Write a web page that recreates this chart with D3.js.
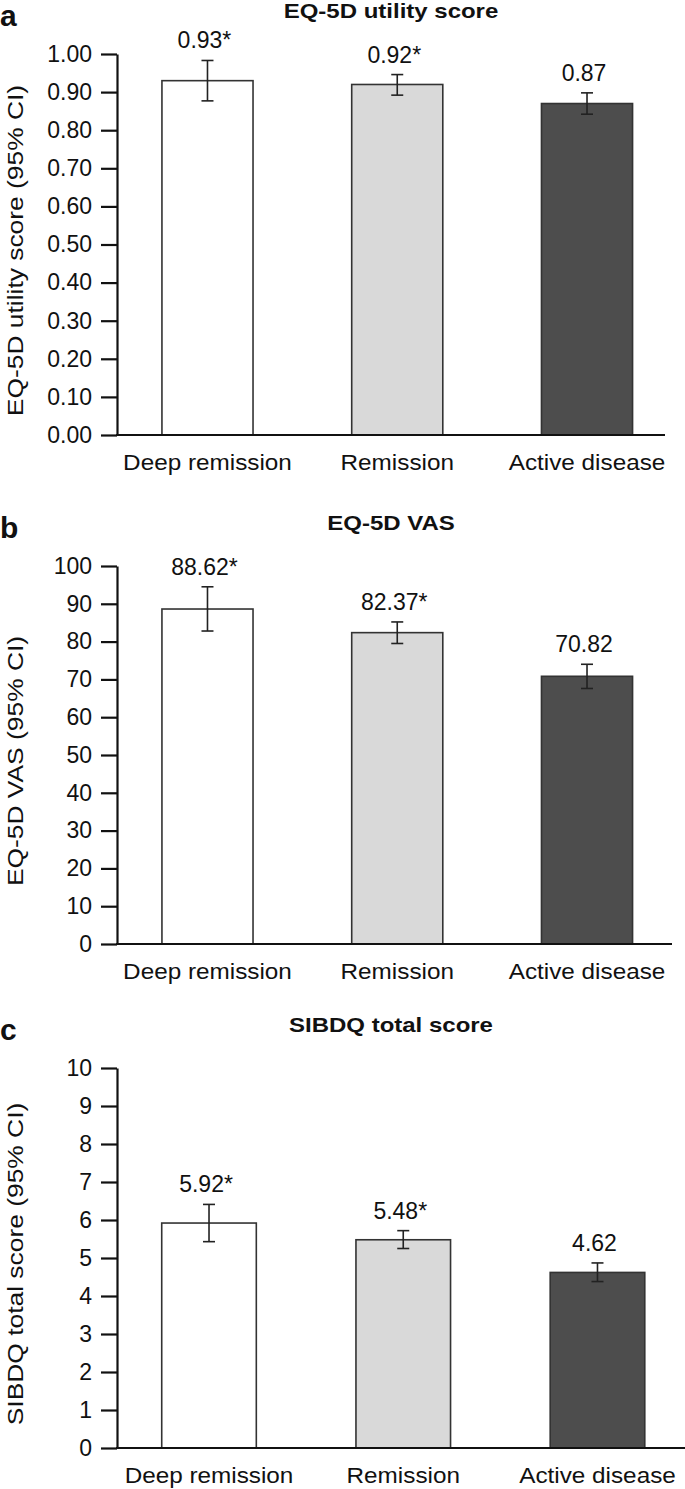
<!DOCTYPE html>
<html>
<head>
<meta charset="utf-8">
<script src="https://cdn.jsdelivr.net/npm/d3@7"></script>
<style>
  body { margin: 0; background: #fff; }
  text { font-family: "Liberation Sans", Arial, Helvetica, sans-serif; fill: #111; }
</style>
</head>
<body>
<svg id="chart"></svg>
<script>
// categories shared by the three panels
const categories = ["Deep remission", "Remission", "Active disease"];

// a: EQ-5D utility score
const utilityMean = [0.93, 0.92, 0.87];
const utilityLow = [0.877, 0.892, 0.842];
const utilityHigh = [0.983, 0.946, 0.898];
const utilityLabels = ["0.93*", "0.92*", "0.87"];
const utilityTicks = [0, 0.1, 0.2, 0.3, 0.4, 0.5, 0.6, 0.7, 0.8, 0.9, 1.0];

// b: EQ-5D VAS
const vasMean = [88.62, 82.37, 70.82];
const vasLow = [82.8, 79.5, 67.6];
const vasHigh = [94.5, 85.2, 74.0];
const vasLabels = ["88.62*", "82.37*", "70.82"];
const vasTicks = [0, 10, 20, 30, 40, 50, 60, 70, 80, 90, 100];

// c: SIBDQ total score
const sibdqMean = [5.92, 5.48, 4.62];
const sibdqLow = [5.43, 5.25, 4.38];
const sibdqHigh = [6.41, 5.72, 4.87];
const sibdqLabels = ["5.92*", "5.48*", "4.62"];
const sibdqTicks = [0, 1, 2, 3, 4, 5, 6, 7, 8, 9, 10];

const barFills = ["#ffffff", "#d9d9d9", "#4d4d4d"];

let svg = d3.select("#chart").attr("width", 685).attr("height", 1489);
svg.append("rect").attr("width", 685).attr("height", 1489).attr("fill", "#fff");

function drawPanel(cfg) {
    let axisX = 117;   // x of the y axis line

    let yScale = d3.scaleLinear()
        .domain([0, cfg.yMax])
        .range([cfg.bottom, cfg.top]);

    // band scale with half outer padding so that the first and last bands centre on the bars
    let xScale = d3.scaleBand()
        .domain(categories)
        .range(cfg.xRange)
        .paddingInner(cfg.pad)
        .paddingOuter(cfg.pad / 2);

    let g = svg.append("g");

    // bars
    g.selectAll(".bar")
        .data(categories)
        .enter().append("rect")
        .attr("x", d => xScale(d))
        .attr("width", xScale.bandwidth())
        .attr("y", (d, i) => yScale(cfg.mean[i]))
        .attr("height", (d, i) => cfg.bottom - yScale(cfg.mean[i]))
        .attr("fill", (d, i) => barFills[i])
        .attr("stroke", "#333")
        .attr("stroke-width", 1.6);

    // error bars
    let err = g.selectAll(".err")
        .data(categories)
        .enter().append("g")
        .attr("stroke", "#222")
        .attr("stroke-width", 1.6);
    let cx = d => xScale(d) + xScale.bandwidth() / 2;
    err.append("line")
        .attr("x1", cx).attr("x2", cx)
        .attr("y1", (d, i) => yScale(cfg.low[i]))
        .attr("y2", (d, i) => yScale(cfg.high[i]));
    err.append("line")
        .attr("x1", d => cx(d) - 6).attr("x2", d => cx(d) + 6)
        .attr("y1", (d, i) => yScale(cfg.high[i]))
        .attr("y2", (d, i) => yScale(cfg.high[i]));
    err.append("line")
        .attr("x1", d => cx(d) - 6).attr("x2", d => cx(d) + 6)
        .attr("y1", (d, i) => yScale(cfg.low[i]))
        .attr("y2", (d, i) => yScale(cfg.low[i]));

    // value labels
    g.selectAll(".val")
        .data(categories)
        .enter().append("text")
        .attr("x", d => cx(d) - 3)
        .attr("y", (d, i) => yScale(cfg.high[i]) - 12)
        .attr("text-anchor", "middle")
        .style("font-size", "23px")
        .text((d, i) => cfg.labels[i]);

    // y axis
    let axisY = d3.axisLeft(yScale)
        .tickValues(cfg.ticks)
        .tickFormat(cfg.fmt)
        .tickSize(16)
        .tickSizeOuter(0)
        .tickPadding(9);
    let ay = g.append("g")
        .attr("transform", "translate(" + axisX + ",0)")
        .call(axisY);
    ay.selectAll("line, path").attr("stroke", "#111").attr("stroke-width", 2.2);
    ay.selectAll("text")
        .style("font-size", "23px")
        .style("font-family", "'Liberation Sans', Arial, sans-serif")
        .attr("fill", "#111");

    // x axis baseline
    g.append("line")
        .attr("x1", axisX - 1).attr("x2", cfg.axisEnd)
        .attr("y1", cfg.bottom).attr("y2", cfg.bottom)
        .attr("stroke", "#111").attr("stroke-width", 2.2);

    // category labels (the original type is set wide, so stretch it a bit)
    g.selectAll(".cat")
        .data(categories)
        .enter().append("text")
        .attr("transform", d => "translate(" + cx(d) + "," + (cfg.bottom + 35) + ") scale(1.08,1)")
        .attr("text-anchor", "middle")
        .style("font-size", "22.5px")
        .text(d => d);

    // panel title
    g.append("text")
        .attr("transform", "translate(391," + (cfg.top - 36) + ") scale(1.2,1)")
        .attr("text-anchor", "middle")
        .style("font-size", "20px")
        .style("font-weight", "bold")
        .text(cfg.title);

    // panel letter
    g.append("text")
        .attr("x", 0)
        .attr("y", cfg.top - 28)
        .style("font-size", "30px")
        .style("font-weight", "bold")
        .text(cfg.letter);

    // y axis title
    g.append("text")
        .attr("transform", "translate(23," + ((cfg.top + cfg.bottom) / 2 + 6) + ") rotate(-90) scale(1.2,1)")
        .attr("text-anchor", "middle")
        .style("font-size", "22px")
        .text(cfg.yTitle);
}

drawPanel({
    letter: "a", title: "EQ-5D utility score", yTitle: "EQ-5D utility score (95% CI)",
    top: 54, bottom: 435, yMax: 1.0, ticks: utilityTicks, fmt: d3.format(".2f"),
    xRange: [112.6, 681.9], pad: 0.52, axisEnd: 665,
    mean: utilityMean, low: utilityLow, high: utilityHigh, labels: utilityLabels
});

drawPanel({
    letter: "b", title: "EQ-5D VAS", yTitle: "EQ-5D VAS (95% CI)",
    top: 566, bottom: 944, yMax: 100, ticks: vasTicks, fmt: d3.format("d"),
    xRange: [112.6, 681.9], pad: 0.52, axisEnd: 672,
    mean: vasMean, low: vasLow, high: vasHigh, labels: vasLabels
});

drawPanel({
    letter: "c", title: "SIBDQ total score", yTitle: "SIBDQ total score (95% CI)",
    top: 1068, bottom: 1448, yMax: 10, ticks: sibdqTicks, fmt: d3.format("d"),
    xRange: [111.9, 694.6], pad: 0.513, axisEnd: 685,
    mean: sibdqMean, low: sibdqLow, high: sibdqHigh, labels: sibdqLabels
});
</script>
</body>
</html>
